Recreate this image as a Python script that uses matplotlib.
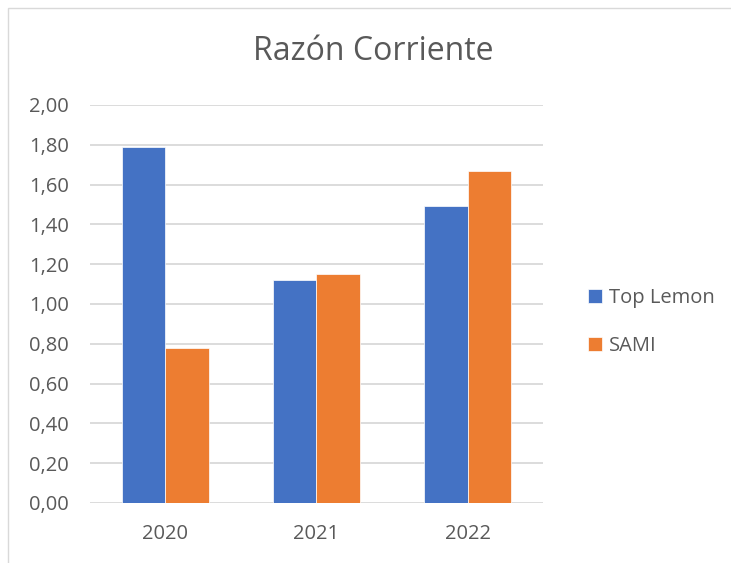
import matplotlib.pyplot as plt
import numpy as np

# data
years = ['2020', '2021', '2022']
top_lemon = [1.79, 1.12, 1.49]
sami = [0.78, 1.15, 1.67]
y_ticks = [0.0, 0.2, 0.4, 0.6, 0.8, 1.0, 1.2, 1.4, 1.6, 1.8, 2.0]

txt = '#595959'
plt.rcParams['font.family'] = ['Open Sans', 'DejaVu Sans']

fig = plt.figure(figsize=(7.31, 5.63), dpi=100)
ax = fig.add_axes([0.1227, 0.1066, 0.6205, 0.7069])

x = np.arange(len(years))
w = 0.286
ax.bar(x - w / 2, top_lemon, w, color='#4472C4', edgecolor='white', linewidth=0.5,
       label='Top Lemon', zorder=3)
ax.bar(x + w / 2, sami, w, color='#ED7D31', edgecolor='white', linewidth=0.5,
       label='SAMI', zorder=3)

ax.set_xlim(-0.5, 2.5)
ax.set_ylim(0, 2.0)
ax.set_yticks(y_ticks)
ax.set_yticklabels([f'{v:.2f}'.replace('.', ',') for v in y_ticks])
ax.set_xticks(x)
ax.set_xticklabels(years)
ax.tick_params(length=0, labelsize=14.5, colors=txt)
ax.tick_params(axis='y', pad=15)
ax.tick_params(axis='x', pad=15)
ax.yaxis.grid(True, color='#d9d9d9', linewidth=1.3, zorder=0)
for s in ax.spines.values():
    s.set_visible(False)

fig.text(373 / 731, 1 - 52 / 563, 'Razón Corriente', ha='center', va='center',
         fontsize=23, color=txt)

fig.legend(loc='center left', bbox_to_anchor=(570 / 731, 1 - 322 / 563), frameon=False,
           fontsize=14.5, labelcolor=txt, handlelength=0.7, handleheight=0.7,
           handletextpad=0.35, labelspacing=1.4)

# chart border
fig.add_artist(plt.Rectangle((8 / 731, -0.1), 1.2, 1 - 8 / 563 + 0.1, transform=fig.transFigure,
                             fill=False, edgecolor='#d9d9d9', linewidth=1.0))

fig.savefig('out.png', dpi=100)
